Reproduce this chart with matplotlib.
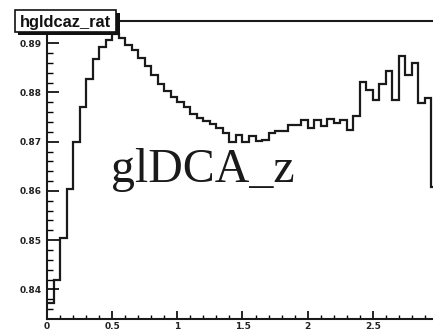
import numpy as np
import matplotlib
matplotlib.use("Agg")
import matplotlib.pyplot as plt
from matplotlib.patches import Rectangle
from matplotlib.ticker import MultipleLocator

HIST_NAME = "hgldcaz_rat"
LABEL = "glDCA_z"

# binning of the ratio histogram
X_LO, X_HI, N_BINS = 0.0, 3.0, 60

# bin contents
ratio = [
    0.8372, 0.8420, 0.8505, 0.8604, 0.8700, 0.8770, 0.8827, 0.8867, 0.8893, 0.8907,
    0.8918, 0.8910, 0.8897, 0.8886, 0.8870, 0.8853, 0.8836, 0.8818, 0.8803, 0.8791,
    0.8781, 0.8770, 0.8757, 0.8748, 0.8741, 0.8736, 0.8728, 0.8718, 0.8700, 0.8713,
    0.8700, 0.8712, 0.8702, 0.8704, 0.8717, 0.8722, 0.8722, 0.8734, 0.8734, 0.8744,
    0.8727, 0.8744, 0.8732, 0.8747, 0.8737, 0.8743, 0.8723, 0.8752, 0.8822, 0.8805,
    0.8785, 0.8818, 0.8844, 0.8785, 0.8874, 0.8835, 0.8860, 0.8779, 0.8788, 0.8608,
]
y_min, y_max = 0.8341, 0.8945

W, H = 433, 329
fig = plt.figure(figsize=(W / 100, H / 100), dpi=100)
fig.patch.set_facecolor("white")

# frame: left 47px, bottom 318px, 130px per unit in x (right edge cut off)
ax = fig.add_axes([47 / W, (H - 318.5) / H, 391 / W, 297.5 / H])
edges = np.linspace(X_LO, X_HI, N_BINS + 1)
ax.stairs(ratio, edges, baseline=None, color="#1a1a1a", lw=1.6)
ax.set_xlim(X_LO, X_HI)
ax.set_ylim(y_min, y_max)

for s in ax.spines.values():
    s.set_linewidth(1.5)
    s.set_color("#1a1a1a")

ax.xaxis.set_major_locator(MultipleLocator(0.5))
ax.xaxis.set_minor_locator(MultipleLocator(0.1))
ax.yaxis.set_major_locator(MultipleLocator(0.01))
ax.yaxis.set_minor_locator(MultipleLocator(0.002))
# the label at 3 falls outside the picture
ax.xaxis.set_major_formatter(plt.FuncFormatter(lambda v, p: f"{v:g}" if v < 2.9 else ""))
ax.yaxis.set_major_formatter(plt.FuncFormatter(lambda v, p: f"{v:.2f}"))

ax.tick_params(axis="y", which="major", direction="in", length=8.6, width=1.2, pad=4, labelsize=6.5)
ax.tick_params(axis="y", which="minor", direction="in", length=4.3, width=1.0)
ax.tick_params(axis="x", which="major", direction="in", length=5.8, width=1.2, pad=2.5, labelsize=6.5)
ax.tick_params(axis="x", which="minor", direction="in", length=2.9, width=1.0)
ax.tick_params(top=False, right=False)
for lab in ax.get_xticklabels() + ax.get_yticklabels():
    lab.set_fontfamily("DejaVu Sans")
    lab.set_fontweight("bold")
    lab.set_color("#222222")

# big label
fig.text(111 / W, 1 - 181.5 / H, LABEL, family="Liberation Serif", fontsize=34.5,
         color="#1a1a1a", ha="left", va="baseline")

# title box with shadow, ROOT style
bx0, by0, bx1, by1 = 15, 10, 116.5, 31.5
fig.patches.append(Rectangle(((bx0 + 3) / W, 1 - (by1 + 3) / H), (bx1 - bx0) / W, (by1 - by0) / H,
                             transform=fig.transFigure, fc="#111111", ec="none", zorder=5))
fig.patches.append(Rectangle((bx0 / W, 1 - by1 / H), (bx1 - bx0) / W, (by1 - by0) / H,
                             transform=fig.transFigure, fc="white", ec="#111111", lw=1.2, zorder=6))
fig.text((bx0 + bx1) / 2 / W, 1 - 26.7 / H, HIST_NAME, family="Liberation Sans",
         fontweight="bold", fontsize=11.8, color="#111111", ha="center", va="baseline", zorder=7)

fig.savefig("out.png", dpi=100)
